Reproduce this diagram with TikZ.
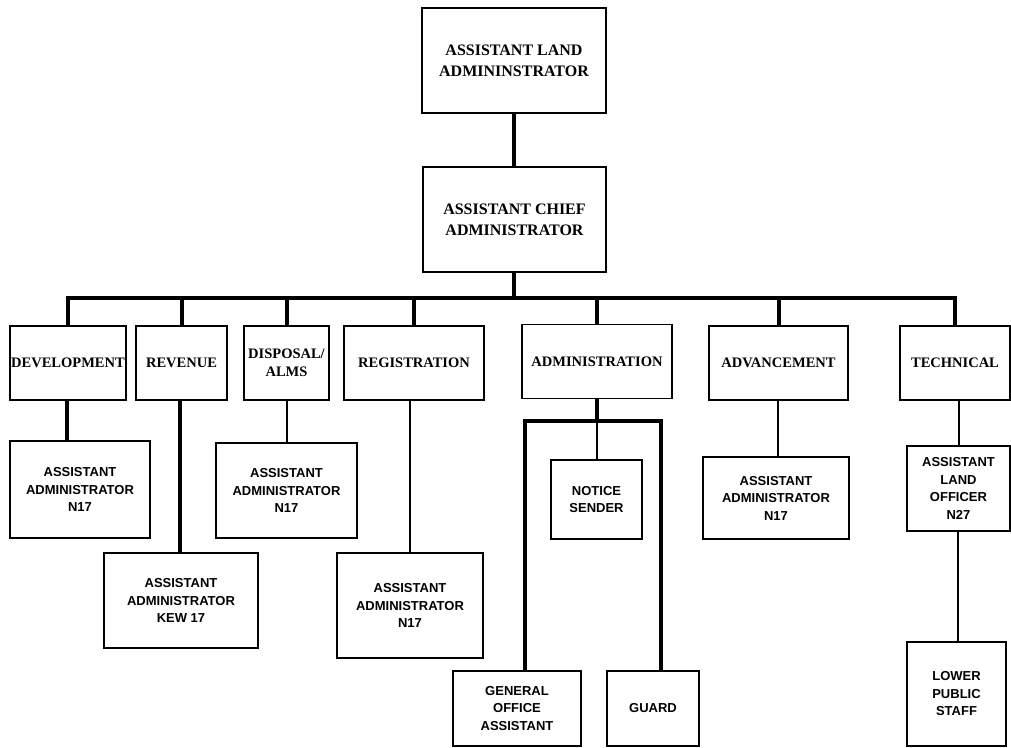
\documentclass[tikz,border=0pt]{standalone}
\usepackage{fontspec}
\setmainfont{Liberation Serif}
\setsansfont{Liberation Sans}
\usepackage{tikz}
\usetikzlibrary{calc, positioning}

\begin{document}
\begin{tikzpicture}[x=1pt, y=-1pt,
    topbox/.style={draw, line width=1.5pt, inner sep=0pt, align=center,
        font=\fontsize{16}{21}\selectfont\bfseries},
    unitbox/.style={draw, line width=1.5pt, inner sep=0pt, align=center,
        minimum height=74pt, font=\fontsize{14.5}{18}\selectfont\bfseries},
    postbox/.style={draw, line width=1.5pt, inner sep=0pt, align=center,
        font=\sffamily\bfseries\fontsize{13}{17.5}\selectfont},
    bus/.style={line width=4pt},
    stem/.style={line width=2pt}]

    \useasboundingbox (0,0) rectangle (1011,747);

    % Head boxes
    \node[topbox, minimum width=184pt, minimum height=105pt] (lad) at (514,60.5)
        {ASSISTANT LAND\\ADMININSTRATOR};
    \node[topbox, minimum width=183pt, minimum height=105pt] (acd) at (514.5,219.5)
        {ASSISTANT CHIEF\\ADMINISTRATOR};

    % Units
    \node[unitbox, minimum width=116pt] (dev) at (68,363) {DEVELOPMENT};
    \node[unitbox, minimum width=91pt]  (rev) at (181.5,363) {REVENUE};
    \node[unitbox, minimum width=85pt]  (dis) at (286.5,363) {DISPOSAL/\\ALMS};
    \node[unitbox, minimum width=140pt] (reg) at (414,363) {REGISTRATION};
    \node[unitbox, minimum width=150pt] (adm) at (597,361.5) {ADMINISTRATION};
    \node[unitbox, minimum width=139pt] (adv) at (778.5,363) {ADVANCEMENT};
    \node[unitbox, minimum width=110pt] (tec) at (955,363) {TECHNICAL};

    % Posts
    \node[postbox, minimum width=140pt, minimum height=97pt] (devaa) at (80,489.5)
        {ASSISTANT\\ADMINISTRATOR\\N17};
    \node[postbox, minimum width=154pt, minimum height=95pt] (revaa) at (181,600.5)
        {ASSISTANT\\ADMINISTRATOR\\KEW 17};
    \node[postbox, minimum width=141pt, minimum height=95pt] (disaa) at (286.5,490.5)
        {ASSISTANT\\ADMINISTRATOR\\N17};
    \node[postbox, minimum width=146pt, minimum height=105pt] (regaa) at (410,605.5)
        {ASSISTANT\\ADMINISTRATOR\\N17};
    \node[postbox, minimum width=91pt, minimum height=79pt] (notice) at (596.5,499.5)
        {NOTICE\\SENDER};
    \node[postbox, minimum width=128pt, minimum height=75pt] (goa) at (517,708.5)
        {GENERAL\\OFFICE\\ASSISTANT};
    \node[postbox, minimum width=92pt, minimum height=75pt] (guard) at (653,708.5)
        {GUARD};
    \node[postbox, minimum width=146pt, minimum height=82pt] (advaa) at (776,498)
        {ASSISTANT\\ADMINISTRATOR\\N17};
    \node[postbox, minimum width=103pt, minimum height=85pt] (alo) at (958.5,488.5)
        {ASSISTANT\\LAND\\OFFICER\\N27};
    \node[postbox, minimum width=99pt, minimum height=104pt] (lps) at (956.5,694)
        {LOWER\\PUBLIC\\STAFF};

    % Bus
    \coordinate (busc) at (514,298);
    \draw[bus] (lad.south) -- (lad.south |- acd.north);
    \draw[bus] (acd.south -| busc) -- (busc);
    \draw[bus] (dev.north) -- (dev.north |- busc) -| (tec.north);
    \foreach \u in {rev, dis, reg, adm, adv}
        \draw[bus] (\u.north) -- (\u.north |- busc);

    % Lower links
    \draw[bus] (dev.south -| 67,0) -- (devaa.north -| 67,0);
    \draw[bus] (rev.south -| 180,0) -- (revaa.north -| 180,0);
    \draw[stem] (disaa.north |- dis.south) -- (disaa.north);
    \draw[stem] (regaa.north |- reg.south) -- (regaa.north);
    \draw[stem] (adv.south -| 778,0) -- (advaa.north -| 778,0);
    \draw[stem] (alo.north -| 959,0) -- (tec.south -| 959,0);
    \draw[stem] (alo.south -| 958,0) -- (lps.north -| 958,0);

    % Administration bracket
    \coordinate (admL) at (525,421);
    \coordinate (admR) at (661,421);
    \draw[bus] (adm.south) -- (adm.south |- admL);
    \draw[bus] (goa.north -| admL) -- (admL) -- (admR) -- (guard.north -| admR);
    \draw[stem] (notice.north |- admL) -- (notice.north);
\end{tikzpicture}
\end{document}
